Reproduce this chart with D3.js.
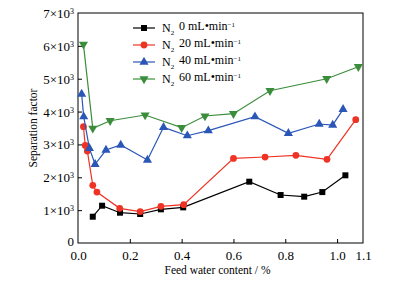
<!DOCTYPE html>
<html>
<head>
<meta charset="utf-8">
<script src="https://cdn.jsdelivr.net/npm/d3@7"></script>
<style>
  body { margin: 0; background: #fff; }
</style>
</head>
<body>
<div id="chart"></div>
<script>
// data
var seriesNames = ['0', '20', '40', '60']
var seriesColors = ['#000000', '#ee3224', '#2a56b8', '#3b8d3b']
var seriesSymbols = ['square', 'circle', 'triangle', 'triangleDown']

var x0 = [0.057, 0.093, 0.162, 0.24, 0.32, 0.406, 0.661, 0.782, 0.873, 0.943, 1.032]
var y0 = [800, 1135, 922, 882, 1025, 1085, 1866, 1460, 1410, 1550, 2060]

var x20 = [0.021, 0.028, 0.036, 0.057, 0.073, 0.161, 0.24, 0.32, 0.408, 0.60, 0.722, 0.841, 0.961, 1.072]
var y20 = [3540, 2970, 2800, 1755, 1550, 1055, 955, 1115, 1165, 2575, 2617, 2668, 2547, 3752]

var x40 = [0.014, 0.022, 0.044, 0.066, 0.108, 0.165, 0.268, 0.33, 0.422, 0.503, 0.683, 0.812, 0.931, 0.983, 1.023]
var y40 = [4534, 3845, 2880, 2395, 2830, 2982, 2525, 3520, 3265, 3418, 3845, 3338, 3621, 3590, 4068]

var x60 = [0.021, 0.057, 0.124, 0.259, 0.40, 0.49, 0.60, 0.741, 0.96, 1.082]
var y60 = [6047, 3490, 3722, 3895, 3510, 3865, 3935, 4635, 5000, 5365]

var xTicks = [0, 0.2, 0.4, 0.6, 0.8, 1.0, 1.1]
var yTicks = [0, 1000, 2000, 3000, 4000, 5000, 6000, 7000]

var allX = [x0, x20, x40, x60]
var allY = [y0, y20, y40, y60]

var font = '"Liberation Serif", "DejaVu Serif", serif'

var margin = {top: 13, right: 31, bottom: 41, left: 78}
var width = 394 - margin.left - margin.right
var height = 284 - margin.top - margin.bottom

var svg = d3.select('#chart')
  .append('svg')
    .attr('width', 394)
    .attr('height', 284)
    .attr('font-family', font)
  .append('g')
    .attr('transform', 'translate(' + margin.left + ',' + margin.top + ')')

var x = d3.scaleLinear().domain([0, 1.1]).range([0, width])
var y = d3.scaleLinear().domain([0, 7000]).range([height, 0])

// frame
svg.append('rect')
  .attr('width', width).attr('height', height)
  .attr('fill', 'none').attr('stroke', '#000').attr('stroke-width', 1)

// x axis
var xAxis = svg.append('g')
  .attr('transform', 'translate(0,' + height + ')')
  .call(d3.axisBottom(x).tickValues(xTicks).tickSize(-4).tickPadding(8).tickFormat(function(d) { return d === 1.1 ? '1.1' : d3.format('.1f')(d) }))
xAxis.attr('font-family', font)
xAxis.select('.domain').remove()
xAxis.selectAll('.tick line').filter(function(d) { return d === 0 || d === 1.1 }).remove()
xAxis.selectAll('text').attr('font-size', 13).attr('fill', '#000')

// y axis
var yAxis = svg.append('g')
  .call(d3.axisLeft(y).tickValues(yTicks).tickSize(-4).tickPadding(5).tickFormat(''))
yAxis.attr('font-family', font)
yAxis.select('.domain').remove()
yAxis.selectAll('.tick line').filter(function(d) { return d === 0 || d === 7000 }).remove()
yAxis.selectAll('.tick').each(function(d) {
  var t = d3.select(this).append('text')
    .attr('x', -4).attr('dy', d === 0 ? '0.2em' : '0.35em')
    .attr('text-anchor', 'end').attr('font-size', 13).attr('fill', '#000')
  if (d === 0) { t.text('0'); return }
  t.append('tspan').text((d / 1000) + '×10')
  t.append('tspan').attr('font-size', 8).attr('dy', '-0.5em').text('3')
})

// axis titles
svg.append('text')
  .attr('x', width / 2 - 3).attr('y', height + 31)
  .attr('text-anchor', 'middle').attr('font-size', 11.5)
  .text('Feed water content / %')
svg.append('text')
  .attr('transform', 'translate(' + (-41) + ',' + (height / 2) + ') rotate(-90)')
  .attr('text-anchor', 'middle').attr('font-size', 11.5)
  .text('Separation factor')

function symbolFor(name) {
  if (name === 'square') return d3.symbol().type(d3.symbolSquare).size(36)
  if (name === 'circle') return d3.symbol().type(d3.symbolCircle).size(36)
  return d3.symbol().type(d3.symbolTriangle).size(36)
}

var line = d3.line().x(function(d) { return x(d[0]) }).y(function(d) { return y(d[1]) })

for (var i = 0; i < seriesNames.length; ++i) {
  var pts = allX[i].map(function(v, j) { return [v, allY[i][j]] })
  svg.append('path')
    .datum(pts)
    .attr('fill', 'none')
    .attr('stroke', seriesColors[i])
    .attr('stroke-width', 1.2)
    .attr('d', line)
  var sym = symbolFor(seriesSymbols[i])
  var rot = seriesSymbols[i] === 'triangleDown' ? ' rotate(180)' : ''
  svg.selectAll('.pt' + i)
    .data(pts)
    .enter().append('path')
      .attr('transform', function(d) { return 'translate(' + x(d[0]) + ',' + y(d[1]) + ')' + rot })
      .attr('d', sym)
      .attr('fill', seriesColors[i])
}

// legend
var legend = svg.append('g').attr('transform', 'translate(' + (133 - margin.left) + ',' + (28 - margin.top) + ')')
for (var i = 0; i < seriesNames.length; ++i) {
  var row = legend.append('g').attr('transform', 'translate(0,' + (i * 17) + ')')
  row.append('line').attr('x1', 0).attr('x2', 22).attr('stroke', seriesColors[i]).attr('stroke-width', 1.2)
  var rot = seriesSymbols[i] === 'triangleDown' ? ' rotate(180)' : ''
  row.append('path').attr('transform', 'translate(11,0)' + rot).attr('d', symbolFor(seriesSymbols[i])).attr('fill', seriesColors[i])
  var t = row.append('text').attr('x', 29).attr('dy', '0.35em').attr('font-size', 12)
  t.append('tspan').text('N')
  t.append('tspan').attr('font-size', 7).attr('dy', '0.35em').text('2')
  t.append('tspan').attr('dy', '-0.35em').attr('x', 46).text(seriesNames[i] + ' mL•min')
  t.append('tspan').attr('font-size', 7).attr('dy', '-0.55em').text('−1')
}
</script>
</body>
</html>
